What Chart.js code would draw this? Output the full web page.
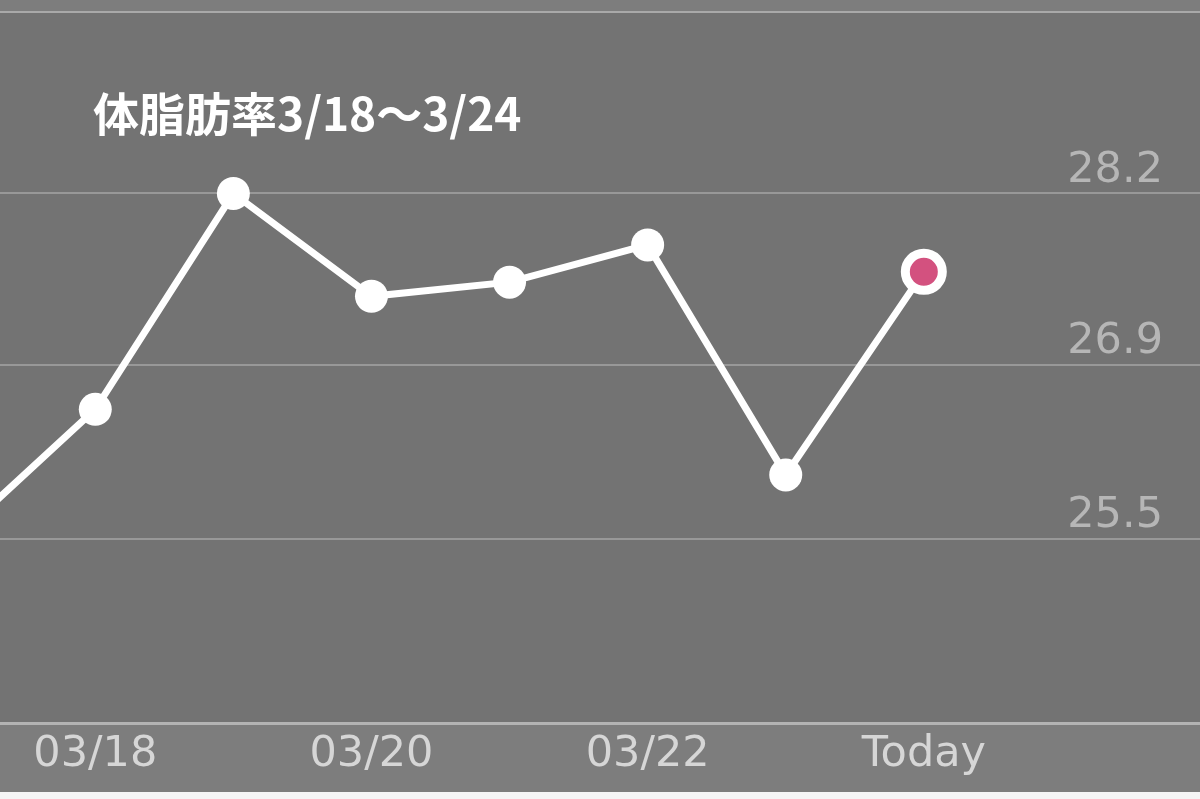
<!DOCTYPE html>
<html>
<head>
<meta charset="utf-8">
<script src="https://cdn.jsdelivr.net/npm/chart.js@4.4.1/dist/chart.umd.min.js"></script>
<style>
html,body{margin:0;padding:0;background:#f5f5f5;overflow:hidden;}
#wrap{position:relative;width:1200px;height:799px;}
#title{position:absolute;left:93px;top:88px;font-family:"Noto Sans CJK JP","Noto Sans",sans-serif;font-weight:700;font-size:46px;line-height:1;color:#ffffff;white-space:nowrap;}
</style>
</head>
<body>
<div id="wrap">
  <canvas id="c" width="1200" height="799"></canvas>
  <div id="title"></div>
</div>
<script>
// ---- data ----
const titleText = '体脂肪率3/18～3/24';
const dates = ['03/17', '03/18', '03/19', '03/20', '03/21', '03/22', '03/23', 'Today'];
const bodyFat = [25.53, 26.52, 28.20, 27.40, 27.51, 27.80, 26.01, 27.59];
const xTickLabels = ['03/18', '03/20', '03/22', 'Today'];
const yTickValues = [25.509, 26.865, 28.2];
const yTickLabels = ['25.5', '26.9', '28.2'];

document.getElementById('title').textContent = titleText;

const lastIdx = bodyFat.length - 1;

const bgPlugin = {
  id: 'bg',
  beforeDraw(chart) {
    const {ctx, chartArea: a, width, height} = chart;
    const xs = chart.scales.x;
    ctx.save();
    ctx.fillStyle = '#7d7d7d';
    ctx.fillRect(0, 0, width, height);
    ctx.fillStyle = '#737373';
    ctx.fillRect(a.left, a.top, a.right - a.left, a.bottom - a.top);
    ctx.fillStyle = '#f5f5f5';
    ctx.fillRect(0, xs.bottom, width, height - xs.bottom);
    ctx.restore();
  }
};

function noPad(s) {
  s.paddingLeft = 0; s.paddingRight = 0; s.paddingTop = 0; s.paddingBottom = 0;
}

new Chart(document.getElementById('c'), {
  type: 'line',
  data: {
    datasets: [{
      data: bodyFat.map((v, i) => ({x: i, y: v})),
      borderColor: '#ffffff',
      borderWidth: 7,
      tension: 0,
      pointRadius: ctx => ctx.dataIndex === lastIdx ? 18.5 : 16.5,
      pointHoverRadius: ctx => ctx.dataIndex === lastIdx ? 18.5 : 16.5,
      pointBackgroundColor: ctx => ctx.dataIndex === lastIdx ? '#d3517f' : '#ffffff',
      pointBorderColor: '#ffffff',
      pointBorderWidth: ctx => ctx.dataIndex === lastIdx ? 9 : 0
    }]
  },
  options: {
    responsive: false,
    animation: false,
    layout: {autoPadding: false, padding: {top: 12, bottom: 7, left: 0, right: 0}},
    plugins: {legend: {display: false}, tooltip: {enabled: false}, title: {display: false}},
    scales: {
      x: {
        type: 'linear',
        position: 'bottom',
        min: 0.31,
        max: 9.0,
        afterBuildTicks(s) {
          s.ticks = dates.map((d, i) => ({value: i})).filter(t => t.value >= s.min && t.value <= s.max);
        },
        afterFit(s) { s.height = 69; noPad(s); },
        ticks: {
          autoSkip: false,
          maxRotation: 0,
          padding: 6,
          color: '#d6d6d6',
          font: {family: 'DejaVu Sans', size: 43},
          callback: v => xTickLabels.includes(dates[v]) ? dates[v] : ''
        },
        grid: {display: false, drawTicks: false},
        border: {display: true, color: '#b3b3b3', width: 3}
      },
      xTop: {
        type: 'linear',
        position: 'top',
        min: 0,
        max: 1,
        afterFit(s) { s.height = 0; noPad(s); },
        ticks: {display: false},
        grid: {display: false, drawTicks: false},
        border: {display: true, color: '#a9a9a9', width: 2}
      },
      y: {
        type: 'linear',
        position: 'right',
        min: 24.079,
        max: 29.6125,
        afterBuildTicks(s) {
          s.ticks = yTickValues.map(v => ({value: v}));
        },
        afterFit(s) { s.width = 0; noPad(s); },
        ticks: {
          mirror: true,
          padding: -37,
          labelOffset: -23,
          crossAlign: 'near',
          color: '#b6b6b6',
          font: {family: 'DejaVu Sans', size: 43},
          callback: (v, i) => yTickLabels[i]
        },
        grid: {color: '#989898', lineWidth: 2, drawTicks: false},
        border: {display: false}
      }
    }
  },
  plugins: [bgPlugin]
});
</script>
</body>
</html>
